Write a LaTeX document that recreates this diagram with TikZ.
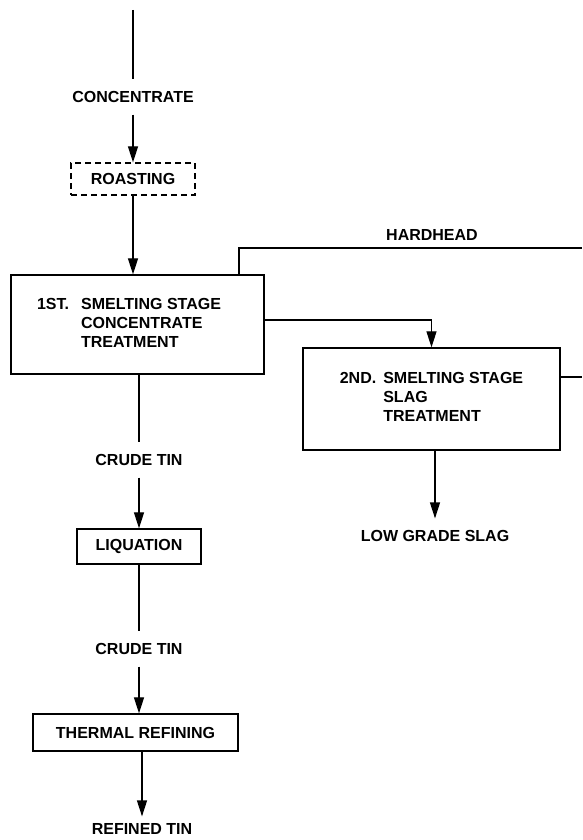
\documentclass[tikz,border=0pt]{standalone}
\usepackage{fontspec}
\setmainfont{Liberation Sans}
\usetikzlibrary{arrows.meta, positioning}

\begin{document}
\begin{tikzpicture}[x=1pt, y=-1pt, line width=1.2pt,
    font=\fontsize{16}{19}\selectfont\bfseries,
    procbox/.style={draw, line width=1.3pt, inner sep=0pt},
    optbox/.style={procbox, dash pattern=on 6pt off 4pt},
    flowlabel/.style={inner xsep=2pt, inner ysep=0pt, minimum height=34pt},
    arr/.style={-{Triangle[length=16pt, width=10pt]}}]
        \useasboundingbox (0,0) rectangle (582,840);
        % main stream
        \coordinate (feed) at (133,10);
        \node[flowlabel] (conc) at (133,97) {CONCENTRATE};
        \node[optbox, minimum width=124pt, minimum height=32pt] (roast) at (133,179) {ROASTING};
        \node[procbox, minimum width=253pt, minimum height=99pt] (smelt1) at (137.5,324.5)
          {\begin{tabular}{@{}l@{\hspace{12pt}}l@{}}1ST.&SMELTING STAGE\\&CONCENTRATE\\&TREATMENT\end{tabular}\kern17pt};
        \node[flowlabel] (crude1) at (139,460) {CRUDE TIN};
        \node[procbox, minimum width=124pt, minimum height=35pt] (liq) at (139,546.5) {LIQUATION};
        \node[flowlabel] (crude2) at (139,649) {CRUDE TIN};
        \node[procbox, minimum width=205pt, minimum height=37pt] (therm) at (135.5,732.5) {THERMAL REFINING};
        \node[flowlabel, minimum height=24pt] (refined) at (142,829) {REFINED TIN};
        % slag side
        \node[flowlabel] (hardhead) at (432,235) {HARDHEAD};
        \node[procbox, minimum width=257pt, minimum height=102pt] (smelt2) at (431.5,399)
          {\begin{tabular}{@{}l@{\hspace{7pt}}l@{}}2ND.&SMELTING STAGE\\&SLAG\\&TREATMENT\end{tabular}};
        \node[flowlabel] (lgslag) at (435,536) {LOW GRADE SLAG};
        \coordinate (hhtop) at (239,248);
        \coordinate (hhend) at (582,248);
        \coordinate (slagend) at (582,377);
        % connectors
        \draw (feed) -- (conc);
        \draw[arr] (conc) -- (roast);
        \draw[arr] (roast) -- (smelt1.north -| roast);
        \draw (hhtop |- smelt1.north) -- (hhtop) -- (hhend);
        \draw[arr] ([yshift=4.5pt]smelt1.east) -| (smelt2.north);
        \draw (smelt2.east |- slagend) -- (slagend);
        \draw[arr] (smelt2.south -| lgslag) -- (lgslag);
        \draw (smelt1.south -| crude1) -- (crude1);
        \draw[arr] (crude1) -- (liq);
        \draw (liq) -- (crude2);
        \draw[arr] (crude2) -- (crude2 |- therm.north);
        \draw[arr] (therm.south -| refined) -- (refined);
      \end{tikzpicture}
\end{document}
